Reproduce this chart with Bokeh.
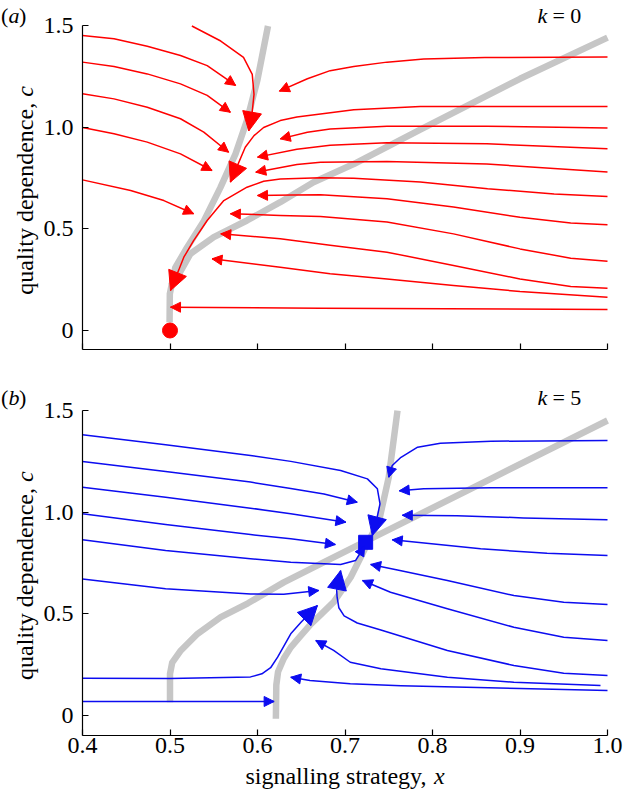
import math
from bokeh.plotting import figure
from bokeh.models import Arrow, NormalHead, Label, FixedTicker, CustomJSTickFormatter, Range1d
from bokeh.layouts import column
from bokeh.embed import file_html
from bokeh.resources import INLINE

FONT = "Liberation Serif"
RED = "#ff0000"
BLUE = "#0c0cf0"
GREY = "#c6c6c6"

X_TICKS = [0.4, 0.5, 0.6, 0.7, 0.8, 0.9, 1.0]
C_TICKS = [0.0, 0.5, 1.0, 1.5]

# ---------------- panel (a), k = 0 ----------------
a_null_steep = [(0.4995, 0.04), (0.4998, 0.18), (0.506, 0.31), (0.5197, 0.41), (0.5387, 0.54),
                (0.5577, 0.705), (0.5749, 0.87), (0.588, 1.035), (0.5997, 1.23), (0.6072, 1.395), (0.612, 1.5)]
a_null_diag = [(0.501, 0.22), (0.508, 0.26), (0.5234, 0.378), (0.55, 0.46), (0.588, 0.542), (0.626, 0.632),
               (0.664, 0.73), (0.71, 0.82), (0.786, 0.99), (0.9, 1.24), (1.0, 1.443)]

a_curves = {
    "L1": [(0.4, 1.453), (0.436, 1.437), (0.474, 1.40), (0.512, 1.355), (0.5425, 1.305), (0.5615, 1.248), (0.575, 1.207)],
    "L2": [(0.4, 1.322), (0.436, 1.30), (0.474, 1.264), (0.512, 1.215), (0.5425, 1.158), (0.569, 1.075)],
    "L3": [(0.4, 1.166), (0.436, 1.141), (0.474, 1.10), (0.512, 1.043), (0.5386, 0.977), (0.567, 0.878)],
    "L4": [(0.4, 1.0), (0.436, 0.969), (0.474, 0.928), (0.512, 0.870), (0.548, 0.788)],
    "L5": [(0.4, 0.742), (0.455, 0.69), (0.493, 0.64), (0.527, 0.575)],
    "T": [(0.525, 1.5), (0.558, 1.426), (0.584, 1.345), (0.594, 1.262), (0.596, 1.163), (0.594, 1.08), (0.590, 0.983)],
    "R1": [(1.0, 1.347), (0.86, 1.345), (0.79, 1.338), (0.748, 1.322), (0.71, 1.30), (0.683, 1.28), (0.657, 1.24), (0.625, 1.179)],
    "R2": [(1.0, 1.103), (0.786, 1.103), (0.71, 1.087), (0.672, 1.066), (0.645, 1.052), (0.626, 1.034), (0.607, 1.0),
           (0.596, 0.96), (0.586, 0.903), (0.569, 0.731)],
    "R3": [(1.0, 0.998), (0.862, 1.006), (0.748, 1.006), (0.683, 0.993), (0.657, 0.977), (0.626, 0.944)],
    "R4": [(1.0, 0.895), (0.862, 0.92), (0.748, 0.925), (0.683, 0.912), (0.645, 0.893), (0.6, 0.854)],
    "R5": [(1.0, 0.781), (0.862, 0.82), (0.748, 0.833), (0.672, 0.829), (0.645, 0.818), (0.598, 0.78)],
    "R6": [(1.0, 0.660), (0.939, 0.673), (0.863, 0.698), (0.786, 0.731), (0.71, 0.75), (0.672, 0.752), (0.626, 0.746),
           (0.607, 0.735), (0.588, 0.706), (0.5615, 0.64), (0.5425, 0.542), (0.527, 0.443), (0.5158, 0.361), (0.5006, 0.197)],
    "R7": [(1.0, 0.521), (0.958, 0.529), (0.9, 0.558), (0.824, 0.608), (0.748, 0.649), (0.672, 0.669), (0.64, 0.668), (0.6, 0.665)],
    "R8": [(1.0, 0.341), (0.958, 0.356), (0.9, 0.402), (0.824, 0.476), (0.748, 0.534), (0.672, 0.562), (0.626, 0.567), (0.569, 0.575)],
    "R9": [(1.0, 0.208), (0.958, 0.217), (0.9, 0.254), (0.824, 0.320), (0.748, 0.386), (0.683, 0.42), (0.626, 0.452), (0.558, 0.476)],
    "R10": [(1.0, 0.164), (0.9, 0.192), (0.824, 0.222), (0.748, 0.254), (0.683, 0.279), (0.626, 0.312), (0.548, 0.353)],
    "R11": [(1.0, 0.103), (0.672, 0.110), (0.5006, 0.115)],
}
a_big_heads = ["T", "R2", "R6"]
a_point = (0.5, 0.0)

# ---------------- panel (b), k = 5 ----------------
b_null_left = [(0.5, 0.065), (0.5, 0.205), (0.5025, 0.26), (0.5124, 0.32), (0.5315, 0.402), (0.558, 0.484),
               (0.589, 0.552), (0.63, 0.655), (0.672, 0.746), (0.752, 0.918), (0.866, 1.163), (1.0, 1.451)]
b_null_right = [(0.621, -0.016), (0.6215, 0.15), (0.6235, 0.215), (0.63, 0.28), (0.638, 0.335), (0.649, 0.39),
                (0.66, 0.445), (0.672, 0.495), (0.6875, 0.56), (0.7065, 0.68), (0.7256, 0.845), (0.739, 0.959),
                (0.75, 1.172), (0.76, 1.5)]

b_curves = {
    "L1": [(0.4, 1.381), (0.495, 1.332), (0.592, 1.279), (0.638, 1.25), (0.695, 1.205), (0.7256, 1.164), (0.737, 1.115),
           (0.740, 1.041), (0.737, 0.98), (0.7312, 0.885)],
    "L2": [(0.4, 1.249), (0.495, 1.20), (0.592, 1.148), (0.638, 1.117), (0.676, 1.09), (0.714, 1.049)],
    "L3": [(0.4, 1.123), (0.495, 1.074), (0.592, 1.02), (0.638, 0.992), (0.701, 0.951)],
    "L4": [(0.4, 0.992), (0.495, 0.94), (0.592, 0.89), (0.638, 0.869), (0.689, 0.841)],
    "L5": [(0.4, 0.864), (0.495, 0.812), (0.592, 0.771), (0.638, 0.754), (0.695, 0.743), (0.712, 0.762), (0.718, 0.803), (0.7225, 0.835)],
    "L6": [(0.4, 0.672), (0.495, 0.623), (0.592, 0.598), (0.630, 0.596), (0.670, 0.615)],
    "L7": [(0.4, 0.183), (0.5, 0.182), (0.592, 0.19), (0.605, 0.205), (0.615, 0.235), (0.623, 0.287), (0.638, 0.402),
           (0.650, 0.46), (0.6685, 0.541)],
    "L8": [(0.4, 0.069), (0.619, 0.069)],
    "R1": [(1.0, 1.353), (0.867, 1.349), (0.809, 1.339), (0.783, 1.32), (0.764, 1.27), (0.754, 1.23), (0.750, 1.172)],
    "R2": [(1.0, 1.12), (0.867, 1.12), (0.79, 1.115), (0.762, 1.105)],
    "R3": [(1.0, 0.963), (0.904, 0.972), (0.828, 0.983), (0.7655, 0.985)],
    "R4": [(1.0, 0.787), (0.931, 0.798), (0.855, 0.82), (0.754, 0.864)],
    "R5": [(1.0, 0.546), (0.95, 0.557), (0.893, 0.59), (0.817, 0.664), (0.76, 0.716), (0.7293, 0.743)],
    "R6": [(1.0, 0.369), (0.95, 0.385), (0.893, 0.434), (0.817, 0.525), (0.752, 0.606), (0.72, 0.664)],
    "R7": [(1.0, 0.197), (0.95, 0.208), (0.893, 0.246), (0.817, 0.32), (0.741, 0.421), (0.714, 0.455), (0.699, 0.49),
           (0.693, 0.53), (0.691, 0.582), (0.6905, 0.614), (0.695, 0.713)],
    "R8": [(0.992, 0.148), (0.893, 0.164), (0.817, 0.188), (0.741, 0.23), (0.706, 0.262), (0.687, 0.32), (0.6666, 0.369)],
    "R9": [(1.0, 0.123), (0.9, 0.133), (0.764, 0.146), (0.706, 0.156), (0.66, 0.172), (0.638, 0.188)],
}
b_big_heads = ["L1", "L7", "R7"]
b_point = (0.7236, 0.852)

x_label_text, x_label_var = "signalling strategy,", "x"
y_label_text, y_label_var = "quality dependence,", "c"

X_LEFT = 0.4 - 82 / 875.0    # frame reaches the page's left edge; y axis is fixed at x = 0.4
X_RIGHT = 1.0 + 16 / 875.0   # frame reaches the page's right edge
A_BOTTOM = -0.0936           # bottom of panel (a) axes
B_BOTTOM = -0.0984           # bottom of panel (b) axes


def make_fig(height, y_lo, y_hi, bottom, axis_bottom, show_x):
    p = figure(width=623, height=height, output_backend="svg", toolbar_location=None,
               x_range=Range1d(X_LEFT, X_RIGHT), y_range=Range1d(y_lo, y_hi),
               min_border_left=0, min_border_right=0, min_border_top=0, min_border_bottom=bottom)
    p.outline_line_color = None
    p.xgrid.visible = False
    p.ygrid.visible = False
    p.background_fill_color = "white"
    p.border_fill_color = "white"
    for ax in (p.xaxis[0], p.yaxis[0]):
        ax.major_tick_in = 6
        ax.major_tick_out = 0
        ax.minor_tick_in = 0
        ax.minor_tick_out = 0
        ax.axis_line_color = "black"
        ax.axis_line_width = 1.2
        ax.major_tick_line_color = "black"
        ax.major_tick_line_width = 1.2
        ax.major_label_text_font = FONT
        ax.major_label_text_font_size = "24px"
        ax.major_label_text_color = "black"
    p.xaxis.ticker = FixedTicker(ticks=X_TICKS)
    p.xaxis.bounds = (0.4, 1.0)
    p.yaxis.ticker = FixedTicker(ticks=C_TICKS)
    p.yaxis.bounds = (axis_bottom, 1.5)
    p.yaxis.fixed_location = 0.4
    p.yaxis.formatter = CustomJSTickFormatter(code="return Math.abs(tick) < 1e-9 ? '0' : tick.toFixed(1);")
    p.yaxis.major_label_standoff = 9
    if show_x:
        p.xaxis.fixed_location = axis_bottom
        p.xaxis.formatter = CustomJSTickFormatter(code="return tick.toFixed(1);")
        p.xaxis.major_label_standoff = 2
    else:
        p.xaxis.formatter = CustomJSTickFormatter(code="return '';")
        p.xaxis.major_label_text_font_size = "0px"
    return p


def draw(p, nulls, curves, big, color, point, marker, msize):
    for nl in nulls:
        p.line([q[0] for q in nl], [q[1] for q in nl], line_color=GREY, line_width=6.5,
               line_join="round", line_cap="butt")
    for name, pts in curves.items():
        xs = [q[0] for q in pts]
        cs = [q[1] for q in pts]
        p.line(xs, cs, line_color=color, line_width=1.5, line_join="round")
    for name, pts in curves.items():
        xs = [q[0] for q in pts]
        cs = [q[1] for q in pts]
        size = 19 if name in big else 10
        head = NormalHead(size=size, fill_color=color, line_color=color, line_width=1)
        p.add_layout(Arrow(end=head, x_start=xs[-2], y_start=cs[-2], x_end=xs[-1], y_end=cs[-1],
                           line_alpha=0))
    p.scatter([point[0]], [point[1]], marker=marker, size=msize, fill_color=color, line_color=color)


def panel_labels(p, letter, kval, y):
    common = dict(text_font=FONT, text_font_size="22px", text_baseline="middle", text_color="black")
    p.add_layout(Label(x=X_LEFT + 0.0005, y=y, text="(", **common))
    p.add_layout(Label(x=X_LEFT + 0.0090, y=y, text=letter, text_font_style="italic", **common))
    p.add_layout(Label(x=X_LEFT + 0.0212, y=y, text=")", **common))
    p.add_layout(Label(x=0.92, y=y, text="k", text_font_style="italic", **common))
    p.add_layout(Label(x=0.937, y=y, text="= " + kval, **common))


def y_axis_title(p, c_start, c_var):
    common = dict(text_font=FONT, text_font_size="24px", text_baseline="alphabetic", text_align="left",
                  text_color="black", angle=math.pi / 2)
    p.add_layout(Label(x=0.3346, y=c_start, text=y_label_text, **common))
    p.add_layout(Label(x=0.3346, y=c_var, text=y_label_var, text_font_style="italic", **common))


# panel (a): frame spans page rows 0..349 (c = 1.5 at row 25, c = 0 at row 330)
pa = make_fig(386, A_BOTTOM, 1.6256, 37, A_BOTTOM, False)
draw(pa, [a_null_steep, a_null_diag], a_curves, a_big_heads, RED, a_point, "circle", 15)
panel_labels(pa, "a", "0", 1.552)
y_axis_title(pa, 0.176, 1.151)

# panel (b): frame spans page rows 386..796 (c = 1.5 at row 410, c = 0 at row 715, axis at row 735)
pb = make_fig(410, -0.3984, 1.6183, 0, B_BOTTOM, True)
draw(pb, [b_null_left, b_null_right], b_curves, b_big_heads, BLUE, b_point, "square", 14)
panel_labels(pb, "b", "5", 1.564)
y_axis_title(pb, 0.175, 1.149)
xl = dict(text_font=FONT, text_font_size="24px", text_baseline="middle", text_align="left", text_color="black")
pb.add_layout(Label(x=0.5862, y=-0.300, text=x_label_text, **xl))
pb.add_layout(Label(x=0.8018, y=-0.300, text=x_label_var, text_font_style="italic", **xl))

layout = column(pa, pb, spacing=0)
open("out.html", "w").write(file_html(layout, INLINE))
